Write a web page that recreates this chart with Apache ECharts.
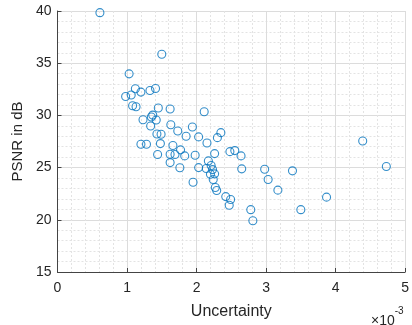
<!DOCTYPE html>
<html>
<head>
<meta charset="utf-8">
<script src="https://cdn.jsdelivr.net/npm/echarts@6/dist/echarts.min.js"></script>
<style>html,body{margin:0;padding:0;background:#fff}#c{width:412px;height:325px}</style>
</head>
<body>
<div id="c"></div>
<script>
// Uncertainty values in units of 1e-3
const uncertainty = [0.61,1.50,1.03,1.12,1.06,0.98,1.20,1.33,1.41,1.08,1.13,1.45,1.62,2.11,1.23,1.37,1.35,1.42,1.34,1.63,1.73,1.94,1.85,2.03,2.35,2.30,1.43,1.49,2.15,1.20,1.28,1.48,1.66,1.44,1.62,1.69,1.77,1.83,1.98,2.26,1.62,1.76,2.03,2.17,2.14,2.21,2.23,2.20,2.26,2.24,1.95,2.27,2.29,2.42,2.47,2.48,2.55,2.64,2.65,2.98,3.38,3.03,3.17,3.87,4.39,4.73,2.49,2.78,2.81,3.50];
const psnr = [39.84,35.86,33.98,32.55,31.95,31.81,32.23,32.39,32.58,30.93,30.83,30.71,30.61,30.35,29.59,30.03,29.85,29.56,28.99,29.11,28.51,28.89,28.00,27.94,28.35,27.87,28.22,28.19,27.36,27.23,27.23,27.30,27.11,26.25,26.28,26.25,26.70,26.12,26.18,26.34,25.48,24.98,25.00,25.64,24.91,25.20,24.81,24.37,24.40,23.86,23.60,23.09,22.81,22.22,21.39,26.53,26.63,26.12,24.88,24.84,24.69,23.86,22.84,22.17,27.55,25.10,21.95,20.97,19.91,20.97];
const xTicks = [0,1,2,3,4,5];
const yTicks = [15,20,25,30,35,40];
const xLabel = 'Uncertainty';
const yLabel = 'PSNR in dB';
const xExponent = '-3';

const points = uncertainty.map((u, i) => [u, psnr[i]]);
const font = '"Liberation Sans", Arial, sans-serif';
const chart = echarts.init(document.getElementById('c'), null, {renderer: 'canvas'});
chart.setOption({
  animation: false,
  grid: {left: 57.5, right: 2.6, top: 11, bottom: 52.3, containLabel: false},
  xAxis: {
    type: 'value', min: xTicks[0], max: xTicks[xTicks.length - 1], interval: 1,
    name: xLabel, nameLocation: 'middle', nameGap: 32,
    nameTextStyle: {fontFamily: font, fontSize: 16, color: '#262626'},
    axisLine: {show: true, onZero: false, lineStyle: {color: '#444', width: 1}},
    axisTick: {show: true, inside: true, length: 4, lineStyle: {color: '#444'}},
    axisLabel: {fontFamily: font, fontSize: 14, color: '#262626', margin: 9},
    splitLine: {show: true, lineStyle: {color: '#dcdcdc', width: 1}},
    minorTick: {show: false, splitNumber: 5},
    minorSplitLine: {show: true, lineStyle: {color: '#e3e3e3', type: [2, 2], width: 1}}
  },
  yAxis: {
    type: 'value', min: yTicks[0], max: yTicks[yTicks.length - 1], interval: 5,
    name: yLabel, nameLocation: 'middle', nameGap: 31, nameRotate: 90,
    nameTextStyle: {fontFamily: font, fontSize: 15, color: '#262626'},
    axisLine: {show: true, onZero: false, lineStyle: {color: '#444', width: 1}},
    axisTick: {show: true, inside: true, length: 4, lineStyle: {color: '#444'}},
    axisLabel: {fontFamily: font, fontSize: 14, color: '#262626', margin: 6},
    splitLine: {show: true, lineStyle: {color: '#dcdcdc', width: 1}},
    minorTick: {show: false, splitNumber: 5},
    minorSplitLine: {show: true, lineStyle: {color: '#e3e3e3', type: [2, 2], width: 1}}
  },
  series: [{
    type: 'scatter',
    data: points,
    symbol: 'circle',
    symbolSize: 8,
    itemStyle: {color: 'rgba(0,0,0,0)', borderColor: '#0072BD', borderWidth: 1.1}
  }],
  graphic: [{
    type: 'text', left: 371, top: 306,
    style: {
      text: '{a|×10}{b|' + xExponent + '}',
      rich: {
        a: {fontFamily: font, fontSize: 14, fill: '#262626', verticalAlign: 'bottom', padding: [8, 0, 0, 0]},
        b: {fontFamily: font, fontSize: 10, fill: '#262626', verticalAlign: 'top', padding: [0, 0, 8, 0]}
      }
    }
  }]
});
</script>
</body>
</html>
